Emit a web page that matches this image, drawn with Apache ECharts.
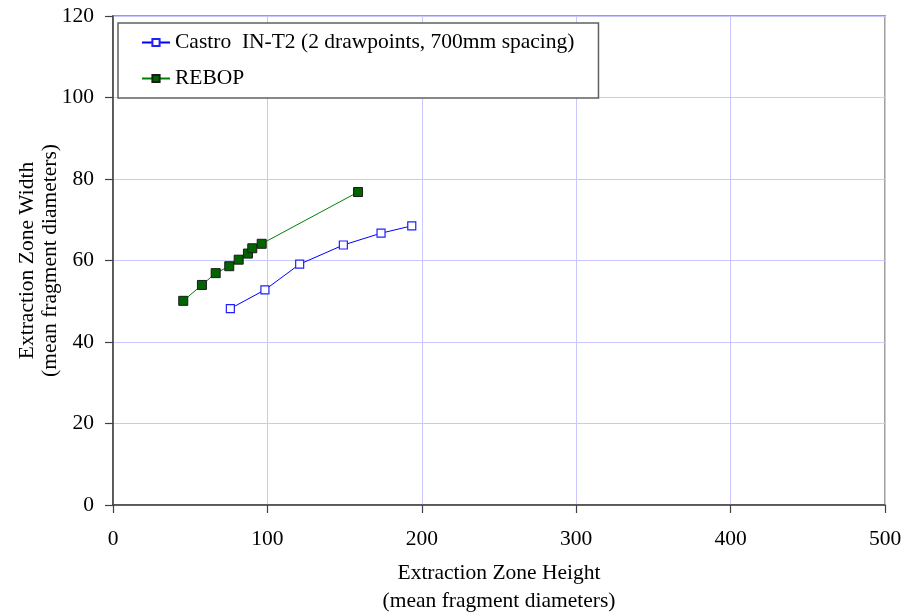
<!DOCTYPE html>
<html>
<head>
<meta charset="utf-8">
<script src="https://cdn.jsdelivr.net/npm/echarts@6/dist/echarts.min.js"></script>
<style>html,body{margin:0;padding:0;background:#fff}#c{width:905px;height:615px}</style>
</head>
<body>
<div id="c"></div>
<script>
var castroX = [76.0, 98.4, 120.9, 149.2, 173.6, 193.5];
var castroY = [48.2, 52.8, 59.1, 63.8, 66.7, 68.5];
var rebopX = [45.5, 57.6, 66.5, 75.3, 81.4, 87.4, 90.2, 96.3, 158.7];
var rebopY = [50.1, 54.0, 56.9, 58.6, 60.2, 61.7, 63.0, 64.1, 76.8];
var seriesNames = ['Castro  IN-T2 (2 drawpoints, 700mm spacing)', 'REBOP'];
var xTitle = 'Extraction Zone Height\n(mean fragment diameters)';
var yTitle = 'Extraction Zone Width\n(mean fragment diameters)';

function pairs(xs, ys) { return xs.map(function (x, i) { return [x, ys[i]]; }); }
var font = '"Liberation Serif", "Times New Roman", serif';
var chart = echarts.init(document.getElementById('c'), null, {renderer: 'canvas'});
chart.setOption({
  animation: false,
  backgroundColor: '#fff',
  textStyle: {fontFamily: font},
  grid: {left: 113, right: 20, top: 16, bottom: 110, containLabel: false, outerBoundsMode: 'none',
         show: true, borderColor: '#a0a0a0', borderWidth: 2},
  legend: {
    orient: 'vertical', left: 118, top: 23,
    padding: [8, 24, 8, 23], itemGap: 13,
    itemWidth: 28, itemHeight: 9,
    backgroundColor: '#fff', borderColor: '#606060', borderWidth: 1.5,
    textStyle: {fontFamily: font, fontSize: 21.5, color: '#000', lineHeight: 23},
    data: seriesNames
  },
  xAxis: {
    type: 'value', min: 0, max: 500, interval: 100,
    name: xTitle, nameLocation: 'middle', nameGap: 54, nameMoveOverlap: false,
    nameTextStyle: {fontFamily: font, fontSize: 21.5, color: '#000', lineHeight: 28},
    axisLine: {show: true, lineStyle: {color: '#404040', width: 1.5}},
    axisTick: {show: true, length: 8, lineStyle: {color: '#404040', width: 1.2}},
    axisLabel: {fontFamily: font, fontSize: 21.5, color: '#000', margin: 23},
    splitLine: {show: true, lineStyle: {color: '#c8c8ff', width: 1}}
  },
  yAxis: {
    type: 'value', min: 0, max: 120, interval: 20,
    name: yTitle, nameLocation: 'middle', nameGap: 51, nameRotate: 90, nameMoveOverlap: false,
    nameTextStyle: {fontFamily: font, fontSize: 21.5, color: '#000', lineHeight: 23},
    axisLine: {show: true, lineStyle: {color: '#404040', width: 1.5}},
    axisTick: {show: true, length: 8, lineStyle: {color: '#404040', width: 1.2}},
    axisLabel: {fontFamily: font, fontSize: 21.5, color: '#000', margin: 19},
    splitLine: {show: true, lineStyle: {color: '#c8c8ff', width: 1}}
  },
  series: [
    {
      name: seriesNames[0], type: 'line', data: pairs(castroX, castroY),
      symbol: 'rect', symbolSize: 8, showSymbol: true,
      lineStyle: {color: '#0000ff', width: 1},
      itemStyle: {color: '#fff', borderColor: '#2020ff', borderWidth: 1.2}
    },
    {
      name: seriesNames[1], type: 'line', data: pairs(rebopX, rebopY),
      symbol: 'rect', symbolSize: 9, showSymbol: true,
      lineStyle: {color: '#008000', width: 1},
      itemStyle: {color: '#006400', borderColor: '#1a1a1a', borderWidth: 1}
    }
  ]
});
</script>
</body>
</html>
